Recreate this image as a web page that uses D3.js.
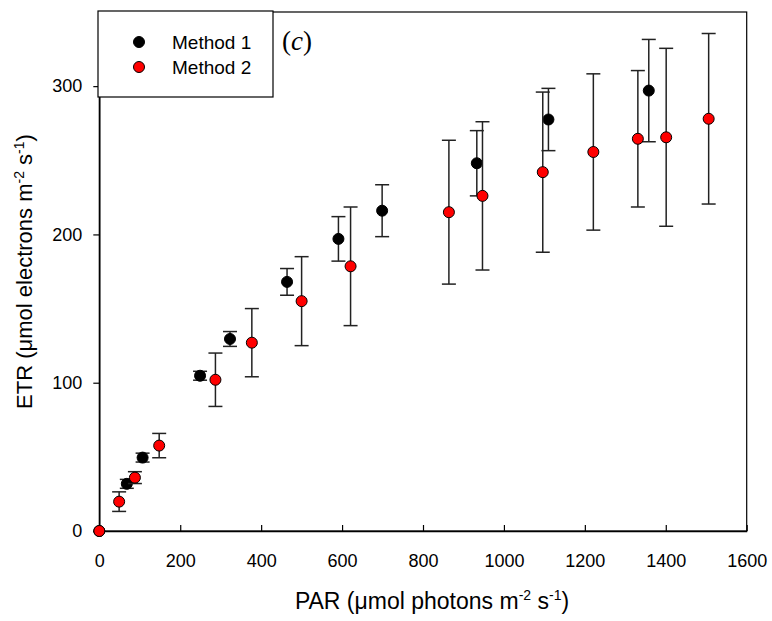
<!DOCTYPE html>
<html>
<head>
<meta charset="utf-8">
<script src="https://cdn.jsdelivr.net/npm/d3@7"></script>
<style>
  body { margin: 0; background: #fff; }
  svg text { font-family: "Liberation Sans", Arial, sans-serif; fill: #000; }
</style>
</head>
<body>
<div id="chart"></div>
<script>
// values
const method1PAR = [0, 68, 107, 249, 323, 464, 591, 699, 933, 1110, 1358];
const method1ETR = [0, 31.8, 49.5, 104.7, 129.5, 168, 197, 216, 248, 277.5, 297];
const method1Err = [0, 3, 3, 3, 5, 9, 15, 17.5, 22, 21, 34.5];

const method2PAR = [0, 49, 88, 148, 287, 377, 500, 621, 864, 947, 1096, 1221, 1331, 1401, 1506];
const method2ETR = [0, 19.8, 36, 57.6, 102, 127, 155, 178.5, 215, 226, 242, 255.6, 264.5, 265.5, 278];
const method2Err = [0, 6.6, 4, 8.2, 18, 23, 30, 40, 48.5, 50, 54, 52.7, 46, 60, 57.5];

const xTicks = [0, 200, 400, 600, 800, 1000, 1200, 1400, 1600];
const yTicks = [0, 100, 200, 300];
const seriesNames = ['Method 1', 'Method 2'];
const seriesColors = ['#000000', '#ff0000'];

const width = 772, height = 621;
const margin = {top: 12, right: 25.3, bottom: 90, left: 99.3};
const innerW = width - margin.left - margin.right,
  innerH = height - margin.top - margin.bottom;

const svg = d3.select('#chart').append('svg')
  .attr('width', width).attr('height', height);
const chart = svg.append('g')
  .attr('transform', `translate(${margin.left},${margin.top})`);

const scaleX = d3.scaleLinear([0, 1600], [0, innerW]);
const scaleY = d3.scaleLinear([0, 350], [innerH, 0]);

// frame
chart.append('rect')
  .attr('width', innerW).attr('height', innerH)
  .attr('fill', 'none').attr('stroke', '#000').attr('stroke-width', 1.2);

// axes
const axisX = chart.append('g')
  .attr('transform', `translate(0,${innerH})`)
  .call(d3.axisBottom(scaleX).tickValues(xTicks).tickFormat(d3.format('d'))
    .tickSizeInner(-6).tickSizeOuter(0).tickPadding(23));
const axisY = chart.append('g')
  .call(d3.axisLeft(scaleY).tickValues(yTicks).tickFormat(d3.format('d'))
    .tickSizeInner(6).tickSizeOuter(0).tickPadding(11));

[axisX, axisY].forEach(a => {
  a.selectAll('path').attr('stroke', '#000').attr('stroke-width', 1.5);
  a.selectAll('line').attr('stroke', '#000').attr('stroke-width', 1.2);
  a.selectAll('text').style('font-size', '18px')
    .style('font-family', '"Liberation Sans", Arial, sans-serif');
});

const seriesData = [
  method1PAR.map((x, i) => ({x, y: method1ETR[i], e: method1Err[i]})),
  method2PAR.map((x, i) => ({x, y: method2ETR[i], e: method2Err[i]}))
];

const capW = 7, r = 5.5;

seriesData.forEach((data, s) => {
  const g = chart.append('g');
  const bars = g.selectAll('g.err').data(data.filter(d => d.e > 0)).join('g')
    .classed('err', true)
    .attr('stroke', '#222').attr('stroke-width', 1.5);
  bars.append('line')
    .attr('x1', d => scaleX(d.x)).attr('x2', d => scaleX(d.x))
    .attr('y1', d => scaleY(d.y + d.e)).attr('y2', d => scaleY(d.y - d.e));
  bars.append('line')
    .attr('x1', d => scaleX(d.x) - capW).attr('x2', d => scaleX(d.x) + capW)
    .attr('y1', d => scaleY(d.y + d.e)).attr('y2', d => scaleY(d.y + d.e));
  bars.append('line')
    .attr('x1', d => scaleX(d.x) - capW).attr('x2', d => scaleX(d.x) + capW)
    .attr('y1', d => scaleY(d.y - d.e)).attr('y2', d => scaleY(d.y - d.e));

  g.selectAll('circle').data(data).join('circle')
    .attr('cx', d => scaleX(d.x)).attr('cy', d => scaleY(d.y))
    .attr('r', r)
    .attr('fill', seriesColors[s]).attr('stroke', '#000').attr('stroke-width', 1);
});

// legend
const legend = svg.append('g').attr('transform', 'translate(98,11)');
legend.append('rect')
  .attr('width', 175).attr('height', 86)
  .attr('fill', '#fff').attr('stroke', '#000').attr('stroke-width', 1.2);
seriesNames.forEach((name, i) => {
  legend.append('circle')
    .attr('cx', 41).attr('cy', 31 + i * 25).attr('r', r)
    .attr('fill', seriesColors[i]).attr('stroke', '#000').attr('stroke-width', 1);
  legend.append('text')
    .attr('x', 74).attr('y', 38 + i * 25)
    .style('font-size', '19px').text(name);
});

svg.append('text')
  .attr('x', 282).attr('y', 50)
  .style('font-family', '"Liberation Serif", "Times New Roman", serif')
  .style('font-size', '27px')
  .html('(<tspan font-style="italic">c</tspan>)');

// axis titles
const labelX = svg.append('text')
  .attr('x', 432).attr('y', 609)
  .style('font-size', '23px').style('text-anchor', 'middle');
labelX.append('tspan').text('PAR (μmol photons m');
labelX.append('tspan').attr('dy', -9).style('font-size', '14px').text('-2');
labelX.append('tspan').attr('dy', 9).text(' s');
labelX.append('tspan').attr('dy', -9).style('font-size', '14px').text('-1');
labelX.append('tspan').attr('dy', 9).text(')');

const labelY = svg.append('text')
  .attr('transform', `translate(32,${margin.top + innerH / 2})rotate(-90)`)
  .style('font-size', '22px').style('text-anchor', 'middle');
labelY.append('tspan').text('ETR (μmol electrons m');
labelY.append('tspan').attr('dy', -8).style('font-size', '14px').text('-2');
labelY.append('tspan').attr('dy', 8).text(' s');
labelY.append('tspan').attr('dy', -8).style('font-size', '14px').text('-1');
labelY.append('tspan').attr('dy', 8).text(')');
</script>
</body>
</html>
